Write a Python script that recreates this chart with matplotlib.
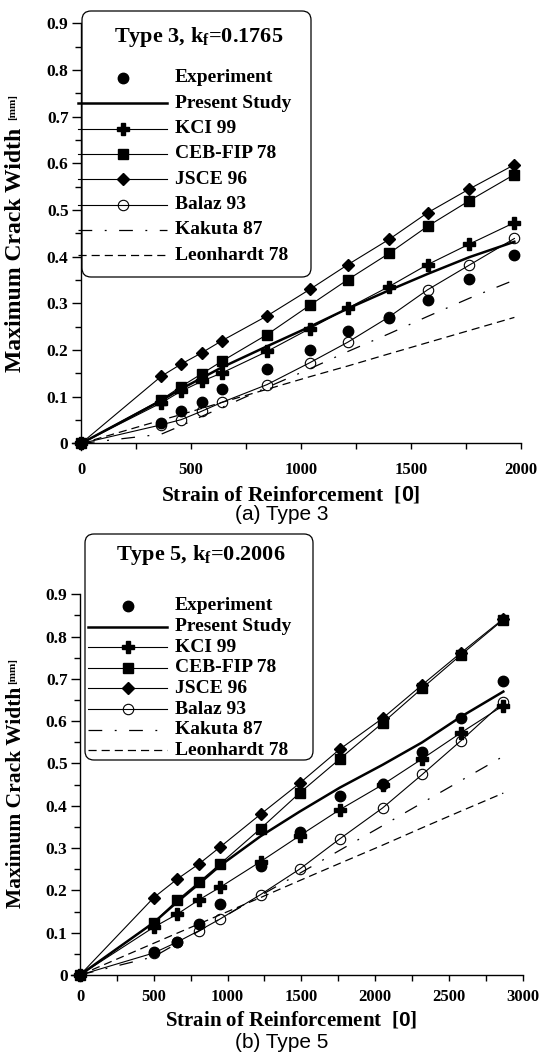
import matplotlib
matplotlib.use("Agg")
import matplotlib.pyplot as plt
from matplotlib.patches import FancyBboxPatch
from matplotlib.lines import Line2D
from matplotlib.transforms import IdentityTransform
from matplotlib.ticker import MultipleLocator

plt.rcParams["font.family"] = "Liberation Serif"
plt.rcParams["font.weight"] = "bold"
plt.rcParams["mathtext.fontset"] = "custom"
plt.rcParams["mathtext.rm"] = "Liberation Serif:bold"
plt.rcParams["mathtext.it"] = "Liberation Serif:bold"
plt.rcParams["mathtext.bf"] = "Liberation Serif:bold"
plt.rcParams["mathtext.sf"] = "Liberation Sans"

W, H = 539, 1052
PIX = IdentityTransform()

# --- data
NAMES = ["Experiment", "Present Study", "KCI 99", "CEB-FIP 78",
         "JSCE 96", "Balaz 93", "Kakuta 87", "Leonhardt 78"]

T3_STRAIN = [0, 365, 455, 548, 640, 845, 1040, 1213, 1400, 1575, 1765, 1970]
T3_EXP    = [0, 0.044, 0.070, 0.089, 0.117, 0.159, 0.200, 0.240, 0.268, 0.308, 0.353, 0.404]
T3_PRES   = [0, 0.092, 0.117, 0.140, 0.163, 0.208, 0.250, 0.289, 0.328, 0.363, 0.399, 0.432]
T3_KCI    = [0, 0.087, 0.112, 0.133, 0.151, 0.197, 0.246, 0.290, 0.336, 0.383, 0.427, 0.473]
T3_CEB    = [0, 0.094, 0.122, 0.149, 0.176, 0.233, 0.296, 0.351, 0.407, 0.465, 0.520, 0.576]
T3_JSCE   = [0, 0.144, 0.170, 0.194, 0.220, 0.273, 0.330, 0.383, 0.437, 0.494, 0.545, 0.597]
T3_BALAZ  = [0, 0.040, 0.051, 0.069, 0.088, 0.126, 0.173, 0.217, 0.271, 0.329, 0.382, 0.439]
T3_KAK    = [0, 0.020, 0.038, 0.058, 0.077, 0.120, 0.160, 0.197, 0.235, 0.272, 0.311, 0.350]
T3_LEON   = [0, 0.050, 0.062, 0.075, 0.088, 0.116, 0.143, 0.166, 0.192, 0.216, 0.242, 0.270]

T5_STRAIN = [0, 500, 660, 808, 948, 1224, 1488, 1762, 2052, 2320, 2580, 2870]
T5_EXP    = [0, 0.054, 0.079, 0.120, 0.168, 0.257, 0.337, 0.422, 0.452, 0.526, 0.607, 0.695]
T5_PRES   = [0, 0.124, 0.173, 0.216, 0.258, 0.328, 0.386, 0.443, 0.497, 0.550, 0.610, 0.670]
T5_KCI    = [0, 0.113, 0.144, 0.178, 0.207, 0.268, 0.329, 0.391, 0.450, 0.511, 0.572, 0.637]
T5_CEB    = [0, 0.124, 0.177, 0.220, 0.262, 0.346, 0.430, 0.511, 0.596, 0.678, 0.756, 0.840]
T5_JSCE   = [0, 0.183, 0.227, 0.263, 0.302, 0.380, 0.453, 0.534, 0.607, 0.686, 0.761, 0.842]
T5_BALAZ  = [0, 0.052, 0.078, 0.105, 0.132, 0.190, 0.250, 0.322, 0.395, 0.474, 0.553, 0.645]
T5_KAK    = [0, 0.043, 0.075, 0.104, 0.132, 0.188, 0.240, 0.295, 0.353, 0.407, 0.459, 0.517]
T5_LEON   = [0, 0.075, 0.099, 0.121, 0.142, 0.183, 0.223, 0.264, 0.307, 0.348, 0.387, 0.430]

Y_TICKS  = [0, 0.1, 0.2, 0.3, 0.4, 0.5, 0.6, 0.7, 0.8, 0.9]
Y_LABELS = ["0", "0.1", "0.2", "0.3", "0.4", "0.5", "0.6", "0.7", "0.8", "0.9"]
T3_XTICKS = [0, 500, 1000, 1500, 2000]
T5_XTICKS = [0, 500, 1000, 1500, 2000, 2500, 3000]

# --- styles
STYLES = {
    "Experiment":    dict(ls="none", marker="o", ms=7.5, mfc="black", mec="black"),
    "Present Study": dict(ls="-", lw=1.8, marker=None),
    "KCI 99":        dict(ls="-", lw=0.8, marker="P", ms=8, mfc="black", mec="black"),
    "CEB-FIP 78":    dict(ls="-", lw=0.8, marker="s", ms=6.5, mfc="black", mec="black"),
    "JSCE 96":       dict(ls="-", lw=0.8, marker="D", ms=6, mfc="black", mec="black"),
    "Balaz 93":      dict(ls="-", lw=0.8, marker="o", ms=7.5, mfc="none", mec="black", mew=0.8),
    "Kakuta 87":     dict(ls=(0, (11, 10, 1.5, 10)), lw=0.9, marker=None),
    "Leonhardt 78":  dict(ls=(0, (6.5, 4)), lw=0.9, marker=None),
}
DRAW_ORDER = ["Leonhardt 78", "Kakuta 87", "KCI 99", "CEB-FIP 78", "JSCE 96",
              "Present Study", "Balaz 93", "Experiment"]


def px_rect(x_left, x_right, y_top, y_bottom):
    return [x_left / W, 1 - y_bottom / H, (x_right - x_left) / W, (y_bottom - y_top) / H]


def draw_panel(fig, rect, strain, series, xlim, xticks, xpad):
    ax = fig.add_axes(rect)
    for name in DRAW_ORDER:
        ax.plot(strain, series[name], color="black", clip_on=False, **STYLES[name])

    ax.set_xlim(*xlim)
    ax.set_ylim(-0.015, 0.9)
    for s in ["top", "right"]:
        ax.spines[s].set_visible(False)
    ax.spines["left"].set_position(("data", 0))
    ax.spines["bottom"].set_position(("data", 0))
    for s in ["left", "bottom"]:
        ax.spines[s].set_linewidth(1.0)

    ax.set_xticks(xticks, [str(t) for t in xticks])
    ax.xaxis.set_minor_locator(MultipleLocator(250))
    ax.set_yticks(Y_TICKS, Y_LABELS)
    ax.yaxis.set_minor_locator(MultipleLocator(0.05))
    ax.tick_params(axis="x", which="major", direction="out", length=4, width=1, pad=xpad)
    ax.tick_params(axis="x", which="minor", direction="out", length=4, width=1)
    ax.tick_params(axis="y", which="major", direction="out", length=6.5, width=1, pad=2.5)
    ax.tick_params(axis="y", which="minor", direction="out", length=4, width=1)
    for lab in ax.get_xticklabels():
        lab.set_fontsize(12)
        lab.set_fontweight("bold")
    for lab in ax.get_yticklabels():
        lab.set_fontsize(12.5)
        lab.set_fontweight("bold")
    return ax


def draw_legend(fig, box, title, title_y, row_y0, row_dy, hx0, hx1, tx):
    x0, y0, x1, y1 = box
    patch = FancyBboxPatch((x0, H - y1), x1 - x0, y1 - y0,
                           boxstyle="round,pad=0,rounding_size=9",
                           transform=PIX, fc="white", ec="black", lw=0.9, zorder=10)
    fig.add_artist(patch)
    fig.text(0.5 * (x0 + x1) + 2, H - title_y, title, transform=PIX,
             ha="center", va="center", fontsize=16, fontweight="bold", zorder=11)
    for i, name in enumerate(NAMES):
        y = H - (row_y0 + i * row_dy)
        st = dict(STYLES[name])
        marker = st.pop("marker", None)
        ms = st.pop("ms", None)
        mfc = st.pop("mfc", "black")
        mec = st.pop("mec", "black")
        mew = st.pop("mew", 1.0)
        if st.get("ls") != "none":
            fig.add_artist(Line2D([hx0, hx1], [y, y], transform=PIX, color="black",
                                  zorder=11, **st))
        if marker:
            fig.add_artist(Line2D([0.5 * (hx0 + hx1)], [y], transform=PIX, ls="none",
                                  marker=marker, ms=ms, mfc=mfc, mec=mec, mew=mew,
                                  color="black", zorder=12))
        fig.text(tx, y, name, transform=PIX, ha="left", va="center",
                 fontsize=14, fontweight="bold", zorder=11)


def main():
    fig = plt.figure(figsize=(W / 100, H / 100), dpi=100)
    fig.patch.set_facecolor("white")

    t3 = dict(zip(NAMES, [T3_EXP, T3_PRES, T3_KCI, T3_CEB, T3_JSCE, T3_BALAZ, T3_KAK, T3_LEON]))
    t5 = dict(zip(NAMES, [T5_EXP, T5_PRES, T5_KCI, T5_CEB, T5_JSCE, T5_BALAZ, T5_KAK, T5_LEON]))

    draw_panel(fig, px_rect(72.2, 521, 23.2, 450.5), T3_STRAIN, t3, (-40, 2000), T3_XTICKS, 9)
    draw_panel(fig, px_rect(71.2, 522.5, 594.3, 981.3), T5_STRAIN, t5, (-60, 3000), T5_XTICKS, 6)

    xlabel = r"Strain of Reinforcement  [$\mathsf{0}$]"
    fig.text(291, H - 495, xlabel, transform=PIX, ha="center", va="center",
             fontsize=15.5, fontweight="bold")
    fig.text(291, H - 1020, xlabel, transform=PIX, ha="center", va="center",
             fontsize=15, fontweight="bold")
    fig.text(282, H - 515, "(a) Type 3", transform=PIX, ha="center", va="center",
             fontsize=15, fontweight="normal", family="Liberation Sans")
    fig.text(282, H - 1042, "(b) Type 5", transform=PIX, ha="center", va="center",
             fontsize=15, fontweight="normal", family="Liberation Sans")

    # y labels (main text plus small unit)
    fig.text(16, H - 249.5, "Maximum Crack Width", transform=PIX, rotation=90,
             ha="center", va="center", fontsize=17, fontweight="bold")
    fig.text(13, H - 107.5, "[mm]", transform=PIX, rotation=90,
             ha="center", va="center", fontsize=8, fontweight="bold")
    fig.text(16, H - 797.5, "Maximum Crack Width", transform=PIX, rotation=90,
             ha="center", va="center", fontsize=15.5, fontweight="bold")
    fig.text(13, H - 671, "[mm]", transform=PIX, rotation=90,
             ha="center", va="center", fontsize=8, fontweight="bold")

    draw_legend(fig, (82, 11, 311, 277), r"Type 3, k$_{\rm f}$=0.1765", 37,
                78, 25.3, 78, 167, 175)
    draw_legend(fig, (85, 534, 313, 760), r"Type 5, k$_{\rm f}$=0.2006", 555,
                606, 20.6, 88, 167, 175)

    fig.savefig("out.png", dpi=100)
    plt.close(fig)


if __name__ == "__main__":
    main()
